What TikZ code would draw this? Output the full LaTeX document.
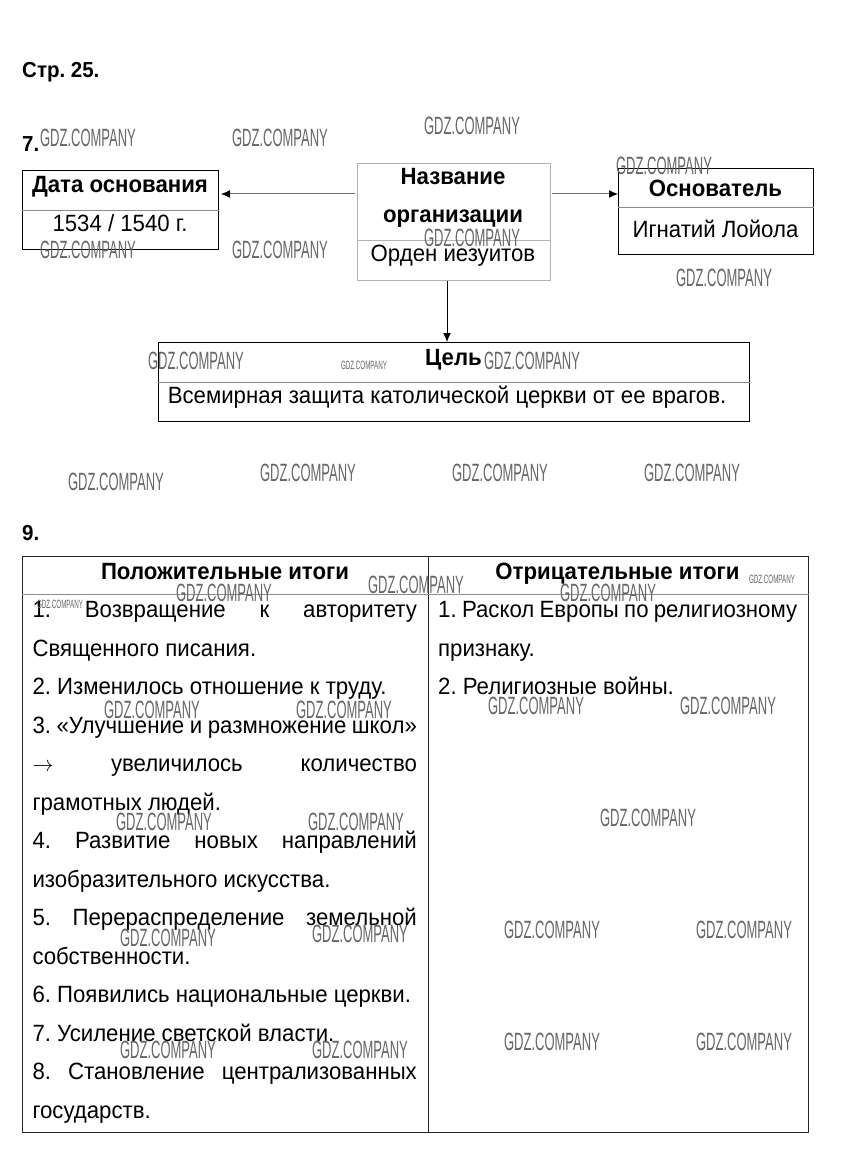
\documentclass[tikz,border=0pt]{standalone}
\usepackage{fontspec}
\setmainfont{Liberation Sans}
\usetikzlibrary{arrows.meta}
\frenchspacing
\begin{document}
\begin{tikzpicture}[x=1pt,y=-1pt,
 box/.style={draw=black, line width=1pt, inner sep=0, anchor=north west},
 lbox/.style={draw=black!30, line width=1pt, inner sep=0, anchor=north west},
 txt/.style={inner sep=0, anchor=base, yscale=1.06, font=\fontsize{22.2}{24}\selectfont},
 btxt/.style={inner sep=0, anchor=base, yscale=1.06, font=\fontsize{22.2}{24}\selectfont\bfseries},
 ltxt/.style={inner sep=0, anchor=base west, yscale=1.06, font=\fontsize{22.2}{24}\selectfont},
 head/.style={inner sep=0, anchor=base west, yscale=1.06, font=\fontsize{20.5}{22}\selectfont\bfseries},
 wm/.style={inner sep=0, xscale=0.52, text=black!60, font=\fontsize{25}{25}\selectfont},
 wms/.style={inner sep=0, xscale=0.52, text=black!60, font=\fontsize{12}{12}\selectfont},
 div/.style={draw=black!45, line width=1pt},
 arr/.style={draw=black!55, line width=1pt, -{Latex[length=9pt,width=8pt,color=black]}},
 darr/.style={draw=black, line width=1pt, -{Latex[length=9pt,width=8pt,color=black]}},
]
\fill[white] (0,0) rectangle (846,1150);
\useasboundingbox (0,0) rectangle (846,1150);

% headings
\node[head] (h1) at (22,78) {Стр. 25.};
\node[head] (h7) at (22,152) {7.};
\node[head] (h9) at (22,540) {9.};

% task 7 boxes
\node[box, minimum width=196, minimum height=79] (date) at (22,170) {};
\node[lbox, minimum width=193, minimum height=117] (name) at (357,163) {};
\node[box, minimum width=195, minimum height=86] (found) at (618,168) {};
\node[box, minimum width=591, minimum height=79] (goal) at (158,342) {};

\coordinate (d1) at (0,211);
\coordinate (d2) at (0,240.7);
\coordinate (d3) at (0,207.3);
\coordinate (d4) at (0,382);
\coordinate (ay) at (0,194);

\draw[div] (date.west |- d1) -- (date.east |- d1);
\draw[draw=black!30, line width=1pt] (name.west |- d2) -- (name.east |- d2);
\draw[div] (found.west |- d3) -- (found.east |- d3);
\draw[div] (goal.west |- d4) -- (goal.east |- d4);

\draw[arr] ([xshift=-2pt]name.west |- ay) -- ([xshift=2pt]date.east |- ay);
\draw[arr] ([xshift=1pt]name.east |- ay) -- (found.west |- ay);
\draw[darr] (name.south -| 447,0) -- (goal.north -| 447,0);

\node[btxt] (t1) at (120,192.3) {Дата основания};
\node[txt] (t2) at (120,231.7) {1534 / 1540 г.};
\node[btxt] (t3) at (453,185) {Название};
\node[btxt] (t4) at (453,222.7) {организации};
\node[txt] (t5) at (453,261.7) {Орден иезуитов};
\node[btxt] (t6) at (715.5,196.7) {Основатель};
\node[txt] (t7) at (715.5,237.3) {Игнатий Лойола};
\node[btxt] (t8) at (453.5,365) {Цель};
\node[txt] (t9) at (447,403) {Всемирная защита католической церкви от ее врагов.};

% task 9 table
\node[draw=black!85, line width=1pt, minimum width=786, minimum height=576, inner sep=0, anchor=north west] (tab) at (22,556) {};
\coordinate (cx) at (428,0);
\coordinate (hy) at (0,594);
\draw[draw=black!85, line width=1pt] (cx |- tab.north) -- (cx |- tab.south);
\draw[div] (tab.west |- hy) -- (tab.east |- hy);

\node[btxt] (th1) at (225,579) {Положительные итоги};
\node[btxt] (th2) at (617.5,579) {Отрицательные итоги};

\node[ltxt] (l0) at (32.3,617.5) {\makebox[384.4pt][s]{1. Возвращение к авторитету}};
\node[ltxt] (l1) at (32.3,656) {Священного писания.};
\node[ltxt] (l2) at (32.3,694.5) {2. Изменилось отношение к труду.};
\node[ltxt] (l3) at (32.3,733) {\makebox[384.4pt][s]{3. «Улучшение и размножение школ»}};
\node[ltxt] (l4) at (32.3,771.5) {\makebox[384.4pt][s]{$\rightarrow$ увеличилось количество}};
\node[ltxt] (l5) at (32.3,810) {грамотных людей.};
\node[ltxt] (l6) at (32.3,848.5) {\makebox[384.4pt][s]{4. Развитие новых направлений}};
\node[ltxt] (l7) at (32.3,887) {изобразительного искусства.};
\node[ltxt] (l8) at (32.3,925.5) {\makebox[384.4pt][s]{5. Перераспределение земельной}};
\node[ltxt] (l9) at (32.3,964) {собственности.};
\node[ltxt] (l10) at (32.3,1002.5) {6. Появились национальные церкви.};
\node[ltxt] (l11) at (32.3,1041) {7. Усиление светской власти.};
\node[ltxt] (l12) at (32.3,1079.5) {\makebox[384.4pt][s]{8. Становление централизованных}};
\node[ltxt] (l13) at (32.3,1118) {государств.};

\node[ltxt] (r0) at (438,617.5) {\makebox[359pt][s]{1. Раскол Европы по религиозному}};
\node[ltxt] (r1) at (438,656) {признаку.};
\node[ltxt] (r2) at (438,694.5) {2. Религиозные войны.};

% watermarks
\foreach \x/\y [count=\i] in {88/138, 280/138, 472/126, 664/166, 88/250, 280/250, 472/238, 724/278,
  196/361, 532/361, 116/482, 308/473, 500/473, 692/473, 416/585, 224/593, 608/593,
  536/706, 728/706, 152/710, 344/710, 648/818, 164/822, 356/822, 552/930, 744/930,
  168/938, 360/934, 552/1042, 744/1042, 168/1050, 360/1050}
  \node[wm] (w\i) at (\x,\y) {GDZ.COMPANY};
\node[wms] (ws1) at (364,365) {GDZ.COMPANY};
\node[wms] (ws2) at (772,579) {GDZ.COMPANY};
\node[wms] (ws3) at (60,604) {GDZ.COMPANY};
\end{tikzpicture}
\end{document}
